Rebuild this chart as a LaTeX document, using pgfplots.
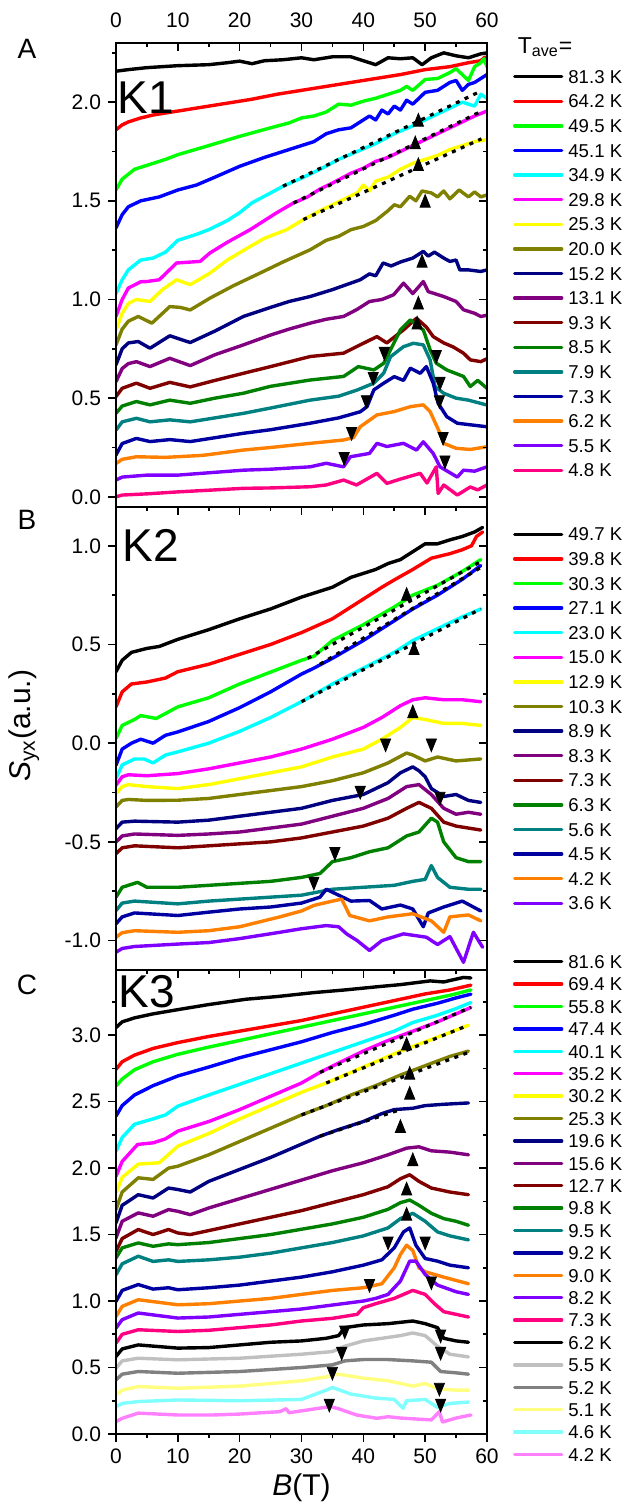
\documentclass[border=0pt]{standalone}
\usepackage{fontspec}
\setmainfont{Liberation Sans}
\usepackage{pgfplots}
\pgfplotsset{compat=1.18}
\definecolor{cK}{RGB}{0,0,0}
\definecolor{cR}{RGB}{255,0,0}
\definecolor{cG}{RGB}{0,255,0}
\definecolor{cB}{RGB}{0,0,255}
\definecolor{cC}{RGB}{0,255,255}
\definecolor{cM}{RGB}{255,0,255}
\definecolor{cY}{RGB}{255,255,0}
\definecolor{cO}{RGB}{128,128,0}
\definecolor{cN}{RGB}{0,0,128}
\definecolor{cP}{RGB}{128,0,128}
\definecolor{cW}{RGB}{128,0,0}
\definecolor{cDG}{RGB}{0,128,0}
\definecolor{cT}{RGB}{0,128,128}
\definecolor{cRB}{RGB}{0,0,160}
\definecolor{cOr}{RGB}{255,128,0}
\definecolor{cV}{RGB}{128,0,255}
\definecolor{cPk}{RGB}{255,0,128}
\definecolor{cLG}{RGB}{192,192,192}
\definecolor{cGr}{RGB}{128,128,128}
\definecolor{cLY}{RGB}{255,255,128}
\definecolor{cLC}{RGB}{128,255,255}
\definecolor{cLM}{RGB}{255,128,255}
\pgfplotsset{
  panel/.style={scale only axis, width=185.5pt, xmin=0, xmax=60, anchor=south west,
    xtick={0,10,...,60}, minor xtick={5,15,...,55},
    axis line style={line width=0.9pt}, every tick/.style={line width=0.8pt, black},
    major tick length=4pt, minor tick length=2pt,
    tick label style={font=\fontsize{10.5}{12}\selectfont},
    /pgf/number format/assume math mode=true,
    yticklabel style={/pgf/number format/.cd, fixed, fixed zerofill, precision=1},
    clip mode=individual},
  mainax/.style={panel, xtick pos=right, xtick align=inside, ytick pos=left, ytick align=outside,
    legend cell align=left,
    legend image code/.code={\draw[##1] (0pt,0pt) -- (23.5pt,0pt);},
    legend style={anchor=north west, draw=none, fill=none, inner sep=0pt, outer sep=0pt,
      column sep=2.5pt, font=\fontsize{9.3}{10}\selectfont,
      nodes={inner sep=0pt, text height=6.7pt, text depth=0pt}}},
  rightax/.style={panel, hide x axis, ytick pos=right, ytick align=inside, yticklabel=\empty},
  cv/.style={line width=1.7pt, line join=round, line cap=round, mark=none},
  fit/.style={black, line width=1.6pt, dash pattern=on 2pt off 2.8pt, forget plot},
  ua/.style={only marks, mark=triangle*, mark size=4.2pt, mark options={fill=black, draw=none, xscale=0.7}, forget plot},
  da/.style={only marks, mark=triangle*, mark size=4.2pt, mark options={fill=black, draw=none, xscale=0.7, rotate=180}, forget plot},
}
\begin{document}
\begin{tikzpicture}
\useasboundingbox (0,0) rectangle (319.5pt,754.5pt);
% ================= Panel A =================
\begin{axis}[mainax, at={(58pt,501.15pt)}, height=231.85pt, ymin=-0.05, ymax=2.30,
  ytick={0,0.5,1,1.5,2}, minor ytick={0.25,0.75,1.25,1.75,2.25},
  xticklabel pos=right, xticklabel style={yshift=4pt},
  legend style={at={(1.0701,0.9418)}, row sep=5.6pt}]
\addplot[cv,cK] coordinates {(0,2.157)(2,2.165)(5,2.175)(10,2.185)(15,2.19)(18,2.2)(20,2.208)(22,2.195)(24,2.21)(27,2.215)(30,2.225)(32,2.215)(35,2.23)(38,2.23)(40,2.21)(42,2.19)(44,2.225)(46,2.22)(48,2.225)(49.5,2.19)(51,2.225)(53,2.25)(55,2.235)(57,2.225)(59,2.245)(60,2.25)};
\addlegendentry{81.3 K}
\addplot[cv,cR] coordinates {(0,1.86)(1,1.885)(2,1.9)(4,1.92)(6,1.935)(8,1.945)(10,1.955)(14,1.975)(18,1.995)(22,2.015)(26,2.04)(30,2.06)(34,2.08)(38,2.1)(42,2.12)(46,2.14)(50,2.165)(54,2.18)(57,2.2)(59,2.21)(59.7,2.23)};
\addlegendentry{64.2 K}
\addplot[cv,cG] coordinates {(0,1.556)(1,1.61)(3,1.66)(5,1.68)(8,1.71)(10,1.734)(15,1.78)(20,1.827)(25,1.87)(28,1.895)(30,1.92)(32,1.93)(34,1.95)(36,1.99)(38,1.985)(40,2.005)(42,2.02)(44,2.04)(46,2.06)(47,2.08)(48,2.06)(50,2.115)(52,2.12)(54,2.15)(55,2.17)(56,2.14)(57,2.11)(58,2.18)(59,2.2)(59.5,2.22)(60,2.18)};
\addlegendentry{49.5 K}
\addplot[cv,cB] coordinates {(0,1.363)(1,1.43)(2,1.47)(4,1.5)(7,1.52)(10,1.555)(13,1.58)(16,1.62)(20,1.675)(24,1.72)(28,1.76)(30,1.78)(32,1.80)(34,1.84)(36,1.86)(38,1.87)(40,1.91)(41,1.93)(42,1.91)(43,1.96)(44,1.94)(45,1.98)(46,1.96)(47,2.01)(48,1.99)(50,2.05)(52,2.06)(54,2.1)(55,2.11)(56,2.06)(57,2.09)(58,2.1)(60,2.14)};
\addlegendentry{45.1 K}
\addplot[cv,cC] coordinates {(0,1.03)(1,1.10)(2,1.15)(4,1.20)(6,1.21)(8,1.24)(10,1.30)(13,1.33)(15,1.354)(18,1.40)(20,1.44)(22,1.49)(25,1.54)(27,1.574)(30,1.615)(33,1.66)(36,1.71)(39,1.75)(42,1.79)(45,1.84)(48,1.88)(50,1.91)(52,1.94)(54,1.97)(56,2.0)(57,1.99)(58,1.98)(59,2.04)(60,2.02)};
\addlegendentry{34.9 K}
\addplot[cv,cM] coordinates {(0,0.914)(1,1.0)(2,1.058)(4,1.09)(5,1.091)(7,1.10)(9.8,1.185)(13.6,1.193)(15.2,1.236)(18,1.29)(21.7,1.354)(24,1.40)(26,1.44)(28.7,1.489)(31,1.52)(33,1.56)(35,1.59)(38,1.64)(40,1.665)(42,1.70)(44,1.72)(46,1.75)(48,1.78)(50,1.81)(52,1.84)(54,1.87)(56,1.90)(58,1.93)(60,1.955)};
\addlegendentry{29.8 K}
\addplot[cv,cY] coordinates {(0,0.846)(1,0.93)(2,0.98)(3.3,1.0)(5.5,0.99)(7.5,1.05)(9.8,1.10)(12,1.075)(15.2,1.134)(18,1.20)(21.7,1.269)(24,1.31)(27.6,1.354)(30.3,1.405)(33,1.45)(35,1.48)(37,1.51)(39,1.54)(40,1.58)(41,1.55)(42,1.60)(44,1.62)(46,1.66)(48,1.69)(50,1.71)(52,1.73)(54,1.76)(56,1.78)(58,1.80)(60,1.81)};
\addlegendentry{25.3 K}
\addplot[cv,cO] coordinates {(0,0.77)(1,0.85)(2,0.89)(3.6,0.914)(5.8,0.88)(8.7,0.964)(10.4,0.96)(12,0.947)(15.2,1.007)(19,1.07)(23.3,1.134)(27,1.19)(31.4,1.252)(34,1.30)(36,1.32)(38,1.354)(40,1.37)(42,1.40)(44,1.45)(45,1.48)(46,1.47)(47.5,1.523)(48.5,1.50)(49.5,1.55)(51,1.54)(52,1.52)(53,1.55)(54,1.51)(55.5,1.555)(57,1.52)(58,1.545)(59,1.52)(60,1.53)};
\addlegendentry{20.0 K}
\addplot[cv,cN] coordinates {(0,0.669)(1,0.75)(2,0.78)(3.6,0.787)(5.5,0.753)(8.7,0.816)(12,0.782)(16,0.84)(20.6,0.914)(25,0.96)(28,0.99)(31.4,1.015)(35,1.05)(39.5,1.10)(41,1.13)(42,1.12)(43.2,1.185)(44.5,1.17)(46,1.19)(48,1.21)(49.7,1.244)(50.5,1.22)(51.5,1.24)(53,1.21)(54,1.193)(55,1.20)(55.6,1.15)(57,1.15)(59,1.142)(60,1.15)};
\addlegendentry{15.2 K}
\addplot[cv,cP] coordinates {(0,0.584)(1,0.65)(2,0.675)(3.3,0.685)(5.5,0.66)(8.7,0.702)(12,0.665)(16,0.72)(20.6,0.77)(25,0.82)(28,0.85)(31.4,0.88)(34,0.90)(36.8,0.914)(39,0.95)(41,0.99)(43,1.0)(44.9,1.024)(46.5,1.083)(48,1.03)(49.7,1.091)(50.5,1.04)(51.5,1.03)(53,1.015)(55,0.99)(56.2,0.948)(58,0.93)(59,0.914)(60,0.92)};
\addlegendentry{13.1 K}
\addplot[cv,cW] coordinates {(0,0.508)(1,0.55)(3.3,0.576)(5.5,0.55)(8.7,0.58)(12,0.557)(16,0.59)(20.6,0.626)(25,0.66)(31.4,0.711)(36.8,0.728)(38.9,0.761)(42.2,0.812)(43.8,0.78)(46.5,0.846)(48.6,0.905)(50.2,0.86)(51.3,0.812)(53,0.78)(54.5,0.76)(56.2,0.728)(57.3,0.694)(59,0.685)(60,0.70)};
\addlegendentry{9.3 K}
\addplot[cv,cDG] coordinates {(0,0.423)(1,0.46)(3.3,0.483)(5.5,0.466)(8.7,0.49)(12,0.474)(16,0.50)(20.6,0.525)(25,0.56)(31.4,0.592)(36.8,0.61)(39.2,0.66)(41.7,0.643)(43.3,0.677)(44.4,0.745)(46,0.846)(47.6,0.897)(48.6,0.87)(49.7,0.846)(50.8,0.745)(51.8,0.677)(53.5,0.643)(56.2,0.61)(57.3,0.559)(58.5,0.59)(60,0.55)};
\addlegendentry{8.5 K}
\addplot[cv,cT] coordinates {(0,0.338)(1,0.38)(3.3,0.398)(5.5,0.38)(8.7,0.39)(12,0.38)(20.6,0.423)(25,0.45)(31.4,0.49)(36,0.51)(38.9,0.54)(41.7,0.576)(43.3,0.627)(44.4,0.71)(46.5,0.761)(48.1,0.778)(49.7,0.77)(50.8,0.694)(51.6,0.558)(53,0.525)(55,0.50)(57,0.49)(60,0.465)};
\addlegendentry{7.9 K}
\addplot[cv,cRB] coordinates {(0,0.212)(1,0.27)(3.3,0.296)(5.5,0.28)(8.7,0.29)(12,0.28)(20.6,0.322)(25,0.34)(31.4,0.373)(36,0.40)(39.5,0.431)(40.6,0.457)(41.7,0.542)(43.3,0.576)(45,0.609)(46.5,0.59)(47.6,0.652)(49.2,0.626)(50.2,0.66)(51.3,0.576)(52.1,0.474)(53.5,0.406)(55.2,0.373)(57.3,0.365)(60,0.355)};
\addlegendentry{7.3 K}
\addplot[cv,cOr] coordinates {(0,0.169)(1,0.19)(3.3,0.203)(8,0.20)(14,0.21)(20.6,0.237)(25,0.25)(31.4,0.271)(36.8,0.288)(38.4,0.30)(39.5,0.355)(42.2,0.415)(45,0.432)(47.6,0.457)(49.7,0.466)(50.8,0.432)(52.4,0.322)(53,0.271)(55,0.246)(57.3,0.24)(60,0.254)};
\addlegendentry{6.2 K}
\addplot[cv,cV] coordinates {(0,0.085)(1,0.10)(5,0.11)(10,0.11)(20.6,0.135)(25,0.14)(31.4,0.152)(34,0.17)(36.8,0.152)(37.9,0.203)(41,0.22)(42.2,0.271)(43.8,0.255)(46.5,0.271)(48.6,0.237)(49.7,0.279)(51.3,0.22)(52.4,0.152)(55.2,0.10)(56.2,0.135)(58,0.13)(60,0.152)};
\addlegendentry{5.5 K}
\addplot[cv,cPk] coordinates {(0,0.0)(1,0.009)(5,0.015)(10,0.025)(20.6,0.043)(25,0.045)(31.4,0.051)(34,0.06)(36.8,0.085)(38.9,0.06)(42.2,0.119)(43.8,0.068)(46,0.09)(49.2,0.119)(50.3,0.07)(51.8,0.152)(52.1,0.017)(53,0.06)(55.2,0.009)(57.3,0.05)(58.5,0.035)(60,0.06)};
\addlegendentry{4.8 K}
\addplot[fit] coordinates {(27,1.574)(59,2.056)};
\addplot[fit] coordinates {(28.7,1.489)(59.1,1.954)};
\addplot[fit] coordinates {(30.3,1.405)(59.1,1.814)};
\addplot[ua] coordinates {(48.9,1.90)(48.4,1.785)(48.9,1.675)(50,1.489)(49.5,1.185)(48.9,0.973)(48.7,0.872)};
\addplot[da] coordinates {(43.4,0.736)(51.8,0.72)(41.6,0.609)(52.4,0.584)(40.5,0.491)(52.3,0.491)(38.1,0.33)(52.9,0.305)(36.9,0.203)(53.2,0.186)};
\end{axis}
\begin{axis}[rightax, at={(58pt,501.15pt)}, height=231.85pt, ymin=-0.05, ymax=2.30,
  ytick={0,0.5,1,1.5,2}, minor ytick={0.25,0.75,1.25,1.75,2.25}]
\end{axis}
% ================= Panel B =================
\begin{axis}[mainax, at={(58pt,269.5pt)}, height=231.65pt, ymin=-1.149, ymax=1.198,
  ytick={-1,-0.5,0,0.5,1}, minor ytick={-0.75,-0.25,0.25,0.75},
  xticklabel=\empty,
  ylabel={\textit{S}\textsubscript{yx}(a.u.)},
  every axis y label/.style={at={(axis description cs:-0.248,0.527)}, rotate=90, anchor=center, font=\fontsize{15}{16}\selectfont},
  legend style={at={(1.0701,0.9549)}, row sep=5.6pt}]
\addplot[cv,cK] coordinates {(0,0.362)(1,0.42)(2.5,0.46)(5,0.48)(7,0.49)(10,0.526)(15,0.575)(20,0.63)(25,0.68)(30,0.74)(33,0.77)(35,0.79)(38,0.84)(40,0.86)(42,0.88)(44,0.91)(46,0.93)(48,0.97)(50,1.01)(52,1.01)(54,1.03)(56,1.047)(58,1.07)(59.3,1.093)};
\addlegendentry{49.7 K}
\addplot[cv,cR] coordinates {(0,0.184)(1,0.26)(2.5,0.30)(5,0.31)(8,0.33)(10,0.362)(15,0.40)(20,0.45)(25,0.50)(30,0.56)(35,0.63)(40,0.73)(43,0.79)(45,0.827)(48,0.88)(51,0.937)(54,0.96)(56,0.98)(57.5,1.0)(58.3,1.047)(59.3,1.07)};
\addlegendentry{39.8 K}
\addplot[cv,cG] coordinates {(0,0.024)(1,0.09)(3,0.12)(4,0.14)(6.5,0.125)(10,0.184)(15,0.23)(20,0.30)(25,0.36)(30,0.42)(32,0.44)(35,0.52)(40,0.6)(45,0.69)(48,0.75)(52,0.8)(56,0.87)(59,0.93)};
\addlegendentry{30.3 K}
\addplot[cv,cB] coordinates {(0,-0.112)(1,-0.03)(2.5,0.0)(4,0.02)(6,0.0)(8,0.04)(10,0.057)(15,0.11)(20,0.18)(25,0.26)(30,0.35)(32,0.38)(35,0.43)(40,0.52)(45,0.62)(48,0.68)(52,0.75)(56,0.83)(59,0.90)};
\addlegendentry{27.1 K}
\addplot[cv,cC] coordinates {(0,-0.179)(1,-0.11)(3,-0.08)(4.5,-0.08)(6,-0.1)(8,-0.06)(10,-0.044)(15,0.0)(20,0.06)(25,0.13)(30,0.21)(35,0.30)(40,0.38)(45,0.46)(48,0.52)(52,0.58)(56,0.64)(59,0.68)};
\addlegendentry{23.0 K}
\addplot[cv,cM] coordinates {(0,-0.213)(1,-0.17)(2,-0.16)(5,-0.165)(10,-0.154)(15,-0.13)(20,-0.10)(25,-0.07)(30,-0.03)(35,0.02)(40,0.08)(43,0.13)(46,0.19)(48,0.22)(50,0.23)(53,0.22)(56,0.22)(59,0.21)};
\addlegendentry{15.0 K}
\addplot[cv,cY] coordinates {(0,-0.255)(1,-0.22)(2,-0.21)(5,-0.22)(10,-0.23)(15,-0.21)(20,-0.18)(25,-0.15)(30,-0.12)(35,-0.07)(40,-0.03)(43,0.02)(46,0.08)(48,0.13)(50,0.12)(53,0.10)(56,0.10)(59,0.09)};
\addlegendentry{12.9 K}
\addplot[cv,cO] coordinates {(0,-0.323)(1,-0.29)(2,-0.285)(5,-0.29)(10,-0.289)(15,-0.28)(20,-0.26)(25,-0.24)(30,-0.22)(35,-0.19)(40,-0.15)(44,-0.10)(47,-0.05)(48,-0.06)(50,-0.09)(52,-0.07)(55,-0.09)(59,-0.08)};
\addlegendentry{10.3 K}
\addplot[cv,cN] coordinates {(0,-0.433)(1,-0.40)(3,-0.395)(10,-0.40)(15,-0.39)(20,-0.37)(25,-0.35)(30,-0.33)(35,-0.29)(40,-0.26)(44,-0.2)(46,-0.15)(48,-0.12)(49,-0.14)(50,-0.17)(51,-0.23)(53,-0.27)(55,-0.26)(57,-0.29)(59,-0.30)};
\addlegendentry{8.9 K}
\addplot[cv,cP] coordinates {(0,-0.501)(1,-0.47)(3,-0.46)(10,-0.467)(15,-0.46)(20,-0.45)(25,-0.43)(30,-0.41)(35,-0.37)(40,-0.33)(44,-0.28)(47,-0.22)(49,-0.21)(51,-0.26)(53,-0.33)(55,-0.36)(57,-0.35)(59,-0.36)};
\addlegendentry{8.3 K}
\addplot[cv,cW] coordinates {(0,-0.56)(1,-0.53)(3,-0.52)(10,-0.53)(15,-0.52)(20,-0.51)(25,-0.50)(30,-0.48)(35,-0.45)(40,-0.42)(44,-0.38)(47,-0.33)(49,-0.30)(51,-0.33)(53,-0.40)(55,-0.42)(57,-0.43)(59,-0.44)};
\addlegendentry{7.3 K}
\addplot[cv,cDG] coordinates {(0,-0.78)(1,-0.73)(3.5,-0.705)(5,-0.73)(10,-0.73)(15,-0.72)(20,-0.71)(25,-0.70)(30,-0.68)(33,-0.66)(35,-0.60)(38,-0.58)(41,-0.55)(44,-0.53)(47,-0.47)(49,-0.45)(51,-0.38)(52,-0.40)(53,-0.50)(55,-0.58)(57,-0.60)(59,-0.60)};
\addlegendentry{6.3 K}
\addplot[cv,cT] coordinates {(0,-0.848)(1,-0.81)(3,-0.80)(10,-0.814)(15,-0.80)(20,-0.79)(25,-0.78)(30,-0.77)(35,-0.74)(40,-0.73)(45,-0.72)(48,-0.70)(50,-0.69)(51,-0.62)(52,-0.68)(54,-0.73)(57,-0.74)(59,-0.74)};
\addlegendentry{5.6 K}
\addplot[cv,cRB] coordinates {(0,-0.915)(1,-0.88)(3,-0.86)(10,-0.873)(15,-0.856)(20,-0.84)(25,-0.83)(30,-0.81)(33,-0.78)(34,-0.74)(36,-0.77)(38,-0.80)(41,-0.797)(43,-0.84)(46,-0.82)(48,-0.84)(49.7,-0.93)(50.5,-0.86)(53,-0.83)(56,-0.80)(59,-0.85)};
\addlegendentry{4.5 K}
\addplot[cv,cOr] coordinates {(0,-0.983)(1,-0.96)(3,-0.95)(10,-0.958)(15,-0.95)(20,-0.93)(26.5,-0.88)(30,-0.85)(32,-0.822)(35,-0.80)(36.5,-0.79)(37.8,-0.873)(41,-0.90)(44,-0.88)(48,-0.864)(51,-0.90)(53,-0.958)(54,-0.88)(57,-0.87)(59,-0.90)};
\addlegendentry{4.2 K}
\addplot[cv,cV] coordinates {(0,-1.059)(1,-1.04)(3,-1.03)(10.4,-1.017)(15,-1.01)(20,-0.99)(26.5,-0.958)(30,-0.94)(34,-0.924)(36,-0.93)(37.3,-0.966)(39,-1.0)(41,-1.05)(43,-1.0)(46.5,-0.966)(50.2,-0.983)(52,-1.02)(54,-0.98)(56.2,-1.11)(57.8,-0.958)(59.3,-1.034)};
\addlegendentry{3.6 K}
\addplot[fit] coordinates {(31,0.43)(59,0.92)};
\addplot[fit] coordinates {(33,0.40)(59,0.89)};
\addplot[fit] coordinates {(30,0.21)(59,0.68)};
\addplot[ua] coordinates {(47,0.745)(48.2,0.47)(48,0.15)};
\addplot[da] coordinates {(43.6,0.0)(51,0.0)(39.5,-0.24)(52.4,-0.27)(35.4,-0.55)(32,-0.70)};
\end{axis}
\begin{axis}[rightax, at={(58pt,269.5pt)}, height=231.65pt, ymin=-1.149, ymax=1.198,
  ytick={-1,-0.5,0,0.5,1}, minor ytick={-0.75,-0.25,0.25,0.75}]
\end{axis}
% ================= Panel C =================
\begin{axis}[mainax, at={(58pt,37.5pt)}, height=232pt, ymin=0, ymax=3.49,
  ytick={0,0.5,1,1.5,2,2.5,3}, minor ytick={0.25,0.75,1.25,1.75,2.25,2.75,3.25},
  xticklabel=\empty,
  legend style={at={(1.0701,1.0323)}, row sep=4.5pt}]
\addplot[cv,cK] coordinates {(0,3.057)(1,3.10)(3,3.13)(6,3.16)(10.4,3.195)(15,3.23)(21,3.27)(26,3.29)(32,3.32)(37,3.34)(42.7,3.366)(46,3.38)(50.8,3.408)(53,3.40)(56.2,3.434)(57.4,3.43)};
\addlegendentry{81.6 K}
\addplot[cv,cR] coordinates {(0,2.743)(1,2.80)(3,2.85)(6,2.90)(10,2.944)(15,2.99)(20,3.03)(25,3.07)(30,3.11)(35,3.16)(40,3.21)(45,3.26)(50,3.31)(54,3.34)(57.4,3.376)};
\addlegendentry{69.4 K}
\addplot[cv,cG] coordinates {(0,2.617)(1,2.67)(3,2.74)(6,2.80)(10,2.856)(15,2.91)(20,2.96)(25,3.01)(30,3.06)(35,3.11)(40,3.16)(45,3.21)(50,3.26)(54,3.30)(57.4,3.34)};
\addlegendentry{55.8 K}
\addplot[cv,cB] coordinates {(0,2.391)(1,2.47)(3,2.55)(6,2.62)(10,2.693)(15,2.76)(20,2.83)(25,2.89)(30,2.95)(35,3.02)(40,3.08)(45,3.15)(48,3.195)(52,3.24)(55,3.28)(57.4,3.308)};
\addlegendentry{47.4 K}
\addplot[cv,cC] coordinates {(0,2.127)(1,2.23)(3,2.33)(6,2.37)(8,2.40)(10,2.466)(15,2.55)(20,2.63)(25,2.71)(30,2.79)(35,2.87)(40,2.95)(45,3.03)(48,3.095)(52,3.15)(55,3.20)(57.4,3.245)};
\addlegendentry{40.1 K}
\addplot[cv,cM] coordinates {(0,1.939)(1,2.05)(3.5,2.178)(6,2.19)(8,2.22)(10,2.278)(15,2.35)(20,2.44)(25,2.54)(30,2.64)(33,2.72)(36,2.79)(40,2.88)(44,2.96)(48,3.03)(52,3.10)(55,3.16)(57.4,3.208)};
\addlegendentry{35.2 K}
\addplot[cv,cY] coordinates {(0,1.814)(1,1.93)(3.6,2.03)(7,2.04)(10,2.165)(15,2.26)(20,2.37)(25,2.47)(30,2.57)(34,2.64)(38,2.72)(42,2.80)(46,2.88)(50,2.95)(54,3.02)(57,3.075)};
\addlegendentry{30.2 K}
\addplot[cv,cO] coordinates {(0,1.688)(1,1.82)(3.6,1.927)(6,1.915)(8.5,2.0)(10,2.014)(15,2.10)(20,2.20)(25,2.30)(30,2.40)(34,2.47)(38,2.55)(42,2.62)(46,2.70)(50,2.77)(54,2.84)(57,2.88)};
\addlegendentry{25.3 K}
\addplot[cv,cN] coordinates {(0,1.588)(1,1.72)(3.6,1.80)(6,1.775)(8.5,1.85)(10,1.839)(12,1.82)(15,1.90)(20,1.99)(25,2.08)(30,2.18)(33,2.24)(36,2.29)(40,2.35)(43,2.41)(45,2.44)(48,2.45)(50,2.47)(53,2.48)(57,2.49)};
\addlegendentry{19.6 K}
\addplot[cv,cP] coordinates {(0,1.475)(1,1.60)(3.6,1.663)(6,1.638)(8.5,1.688)(10,1.675)(12,1.65)(15,1.70)(20,1.77)(25,1.84)(30,1.91)(35,1.98)(40,2.04)(44,2.10)(47,2.15)(49,2.16)(51,2.13)(54,2.12)(57,2.10)};
\addlegendentry{15.6 K}
\addplot[cv,cW] coordinates {(0,1.374)(1,1.47)(3.6,1.538)(6,1.50)(8.5,1.538)(10,1.512)(12,1.50)(15,1.53)(20,1.58)(25,1.63)(30,1.68)(35,1.74)(40,1.80)(44,1.86)(46,1.92)(47.5,1.95)(49,1.90)(51,1.85)(54,1.82)(57,1.80)};
\addlegendentry{12.7 K}
\addplot[cv,cDG] coordinates {(0,1.324)(1,1.40)(3.6,1.437)(6,1.412)(8.5,1.43)(10,1.424)(15,1.44)(20,1.47)(25,1.50)(30,1.54)(35,1.58)(40,1.63)(44,1.69)(46,1.74)(47.5,1.76)(49,1.72)(51,1.66)(53,1.62)(55,1.60)(57,1.57)};
\addlegendentry{9.8 K}
\addplot[cv,cT] coordinates {(0,1.198)(1,1.28)(3.6,1.337)(6,1.298)(8.5,1.31)(10,1.298)(15,1.31)(20,1.33)(25,1.36)(30,1.40)(35,1.44)(40,1.49)(44,1.55)(46,1.62)(48,1.66)(50,1.60)(52,1.52)(54,1.49)(57,1.46)};
\addlegendentry{9.5 K}
\addplot[cv,cRB] coordinates {(0,0.997)(1,1.08)(3.6,1.124)(6,1.09)(8.5,1.10)(10,1.085)(15,1.10)(20,1.12)(25,1.15)(30,1.18)(35,1.22)(40,1.27)(43,1.31)(45,1.40)(46.5,1.52)(47.5,1.55)(48.5,1.42)(50,1.32)(52,1.30)(54,1.27)(57,1.25)};
\addlegendentry{9.2 K}
\addplot[cv,cOr] coordinates {(0,0.884)(1,0.96)(3.6,1.01)(10,0.972)(15,0.98)(20,1.0)(25,1.02)(30,1.05)(35,1.08)(40,1.10)(43,1.13)(45,1.25)(46,1.35)(47,1.42)(48,1.38)(49,1.25)(50,1.22)(53,1.18)(57,1.13)};
\addlegendentry{9.0 K}
\addplot[cv,cV] coordinates {(0,0.797)(1,0.86)(3.6,0.91)(10,0.872)(15,0.88)(20,0.90)(25,0.92)(30,0.94)(35,0.97)(40,1.0)(42,1.02)(44,1.05)(46,1.15)(47.5,1.30)(48.5,1.30)(50,1.20)(52,1.12)(55,1.07)(57,1.05)};
\addlegendentry{8.2 K}
\addplot[cv,cPk] coordinates {(0,0.683)(1,0.75)(3.6,0.784)(10,0.771)(15,0.78)(20,0.80)(25,0.82)(30,0.85)(35,0.87)(39,0.90)(40,0.95)(42,0.98)(45,1.02)(48,1.08)(50,1.05)(51.5,0.98)(53,0.92)(55,0.90)(57,0.88)};
\addlegendentry{7.3 K}
\addplot[cv,cK] coordinates {(0,0.583)(1,0.64)(3.6,0.67)(10,0.646)(15,0.65)(20,0.67)(25,0.69)(30,0.70)(34,0.72)(36,0.74)(37,0.80)(40,0.82)(44,0.83)(48,0.85)(50,0.83)(52,0.80)(53,0.72)(55,0.70)(57,0.69)};
\addlegendentry{6.2 K}
\addplot[cv,cLG] coordinates {(0,0.495)(1,0.55)(3.6,0.57)(10,0.558)(20,0.57)(30,0.60)(35,0.62)(37,0.66)(40,0.70)(43,0.72)(46,0.74)(48,0.76)(50,0.74)(52,0.66)(54,0.60)(57,0.58)};
\addlegendentry{5.5 K}
\addplot[cv,cGr] coordinates {(0,0.407)(1,0.45)(3.6,0.47)(10,0.457)(20,0.47)(30,0.50)(35,0.52)(37,0.55)(40,0.56)(44,0.56)(48,0.55)(51,0.54)(52.5,0.47)(55,0.46)(57,0.45)};
\addlegendentry{5.2 K}
\addplot[cv,cLY] coordinates {(0,0.294)(1,0.33)(3.6,0.357)(10,0.344)(20,0.36)(30,0.40)(34,0.43)(36,0.45)(40,0.42)(44,0.40)(48,0.36)(50,0.38)(52,0.34)(55,0.33)(57,0.33)};
\addlegendentry{5.1 K}
\addplot[cv,cLC] coordinates {(0,0.206)(1,0.23)(3.6,0.244)(10,0.256)(20,0.25)(30,0.26)(34,0.33)(35,0.35)(38,0.30)(42,0.27)(45,0.26)(46.4,0.194)(47,0.25)(50,0.26)(52,0.20)(54,0.23)(57,0.24)};
\addlegendentry{4.6 K}
\addplot[cv,cLM] coordinates {(0,0.093)(1,0.118)(3.6,0.157)(10,0.143)(15.7,0.143)(20,0.15)(26.5,0.168)(27.5,0.19)(28,0.16)(34.6,0.206)(36,0.19)(38.9,0.143)(42.2,0.118)(44,0.13)(46,0.12)(51,0.106)(52.3,0.168)(52.8,0.09)(55,0.12)(57.4,0.143)};
\addlegendentry{4.2 K}
\addplot[fit] coordinates {(33,2.72)(57.4,3.21)};
\addplot[fit] coordinates {(34,2.64)(57,3.075)};
\addplot[fit] coordinates {(30,2.40)(57,2.87)};
\addplot[fit] coordinates {(33,2.24)(46,2.44)};
\addplot[ua] coordinates {(47,2.92)(47.5,2.70)(47.5,2.55)(46,2.30)(48,2.05)(47,1.83)(47,1.64)};
\addplot[da] coordinates {(44,1.45)(50,1.45)(41,1.13)(51,1.15)(37,0.78)(52.5,0.75)(36.5,0.62)(52.5,0.62)(35,0.47)(52.3,0.35)(34.5,0.23)(52.5,0.23)};
\end{axis}
\begin{axis}[rightax, at={(58pt,37.5pt)}, height=232pt, ymin=0, ymax=3.49,
  ytick={0,0.5,1,1.5,2,2.5,3}, minor ytick={0.25,0.75,1.25,1.75,2.25,2.75,3.25}]
\end{axis}
\begin{axis}[panel, at={(58pt,37.5pt)}, height=232pt, ymin=0, ymax=3.49, hide y axis,
  xtick pos=left, xticklabel pos=left, xtick align=outside,
  xlabel={\textit{B}(T)},
  every axis x label/.style={at={(axis description cs:0.5,0)}, anchor=center, yshift=-27pt, font=\fontsize{15}{16}\selectfont}]
\end{axis}
% labels
\node[font=\fontsize{14}{16}\selectfont] at (13.5pt,730pt) {A};
\node[font=\fontsize{14}{16}\selectfont] at (13.5pt,494.5pt) {B};
\node[font=\fontsize{14}{16}\selectfont] at (13.5pt,262pt) {C};
\node[font=\fontsize{23}{26}\selectfont] at (73pt,705.5pt) {K1};
\node[font=\fontsize{23}{26}\selectfont] at (75.5pt,482pt) {K2};
\node[font=\fontsize{23}{26}\selectfont] at (73.5pt,258.5pt) {K3};
\node[font=\fontsize{11.5}{13}\selectfont] at (272.5pt,731pt) {T\textsubscript{ave}=};
\end{tikzpicture}
\end{document}
